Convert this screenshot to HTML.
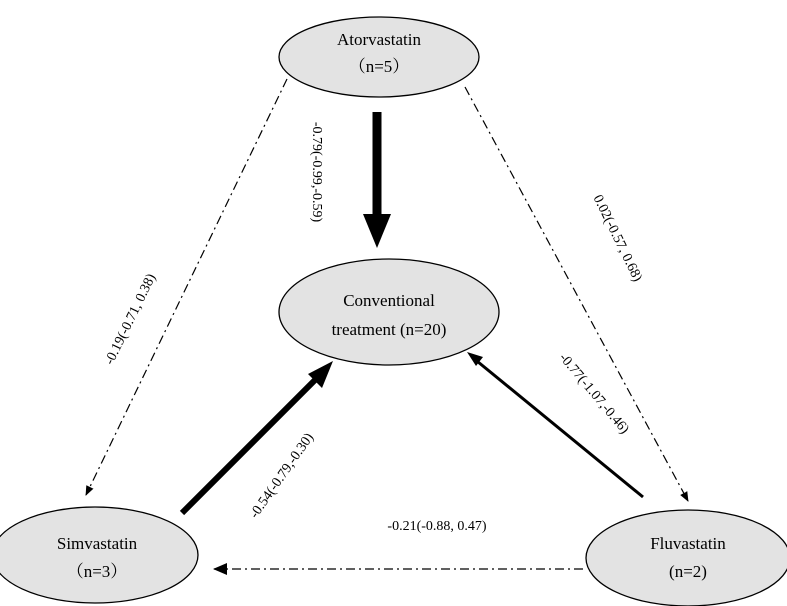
<!DOCTYPE html>
<html><head><meta charset="utf-8"><style>
html,body{margin:0;padding:0;background:#fff;}
svg{display:block;}
text{font-family:"Liberation Serif","Noto Serif CJK SC",serif;fill:#000;}
</style></head><body>
<svg width="787" height="606" viewBox="0 0 787 606" xmlns="http://www.w3.org/2000/svg">
<defs>
<marker id="ah" markerWidth="10" markerHeight="10" refX="9" refY="5" orient="auto" markerUnits="userSpaceOnUse"><path d="M0,1 L10,5 L0,9 Z" fill="#000"/></marker>
<marker id="ahs" markerWidth="14" markerHeight="14" refX="13" refY="7" orient="auto" markerUnits="userSpaceOnUse"><path d="M0,1 L14,7 L0,13 Z" fill="#000"/></marker>
</defs>
<g fill="#e3e3e3" stroke="#000" stroke-width="1.3">
<ellipse cx="379" cy="57" rx="100" ry="40"/>
<ellipse cx="389" cy="312" rx="110" ry="53"/>
<ellipse cx="95" cy="555" rx="103" ry="48"/>
<ellipse cx="688" cy="558" rx="102" ry="48"/>
</g>
<g font-size="17" text-anchor="middle">
<text x="379" y="45">Atorvastatin</text>
<text x="379" y="72">（n=5）</text>
<text x="389" y="306">Conventional</text>
<text x="389" y="335">treatment (n=20)</text>
<text x="97" y="549">Simvastatin</text>
<text x="97" y="577">（n=3）</text>
<text x="688" y="549">Fluvastatin</text>
<text x="688" y="577">(n=2)</text>
</g>
<rect x="372.5" y="112" width="9" height="104" fill="#000"/>
<path d="M363,214 L391,214 L377,248 Z" fill="#000"/>
<line x1="182" y1="513" x2="320" y2="375" stroke="#000" stroke-width="6"/>
<path d="M333,361 L308,374 L322,388 Z" fill="#000"/>
<line x1="643" y1="497" x2="472" y2="357" stroke="#000" stroke-width="3"/>
<path d="M467,352 L483,357 L476,366 Z" fill="#000"/>
<g stroke="#000" stroke-width="1.2" fill="none" stroke-dasharray="9,4,2,4">
<line x1="287" y1="79" x2="86" y2="495" marker-end="url(#ah)"/>
<line x1="465" y1="87" x2="688" y2="501" marker-end="url(#ah)"/>
<line x1="583" y1="569" x2="214" y2="569" marker-end="url(#ahs)"/>
</g>
<g font-size="14" text-anchor="middle">
<text transform="translate(313,172) rotate(90)">-0.79(-0.99,-0.59)</text>
<text transform="translate(614,240) rotate(64)">0.02(-0.57, 0.68)</text>
<text transform="translate(134,321) rotate(-64)">-0.19(-0.71, 0.38)</text>
<text transform="translate(591,396) rotate(50)">-0.77(-1.07,-0.46)</text>
<text transform="translate(285,478) rotate(-55)">-0.54(-0.79,-0.30)</text>
<text x="437" y="530">-0.21(-0.88, 0.47)</text>
</g>
</svg>
</body></html>
